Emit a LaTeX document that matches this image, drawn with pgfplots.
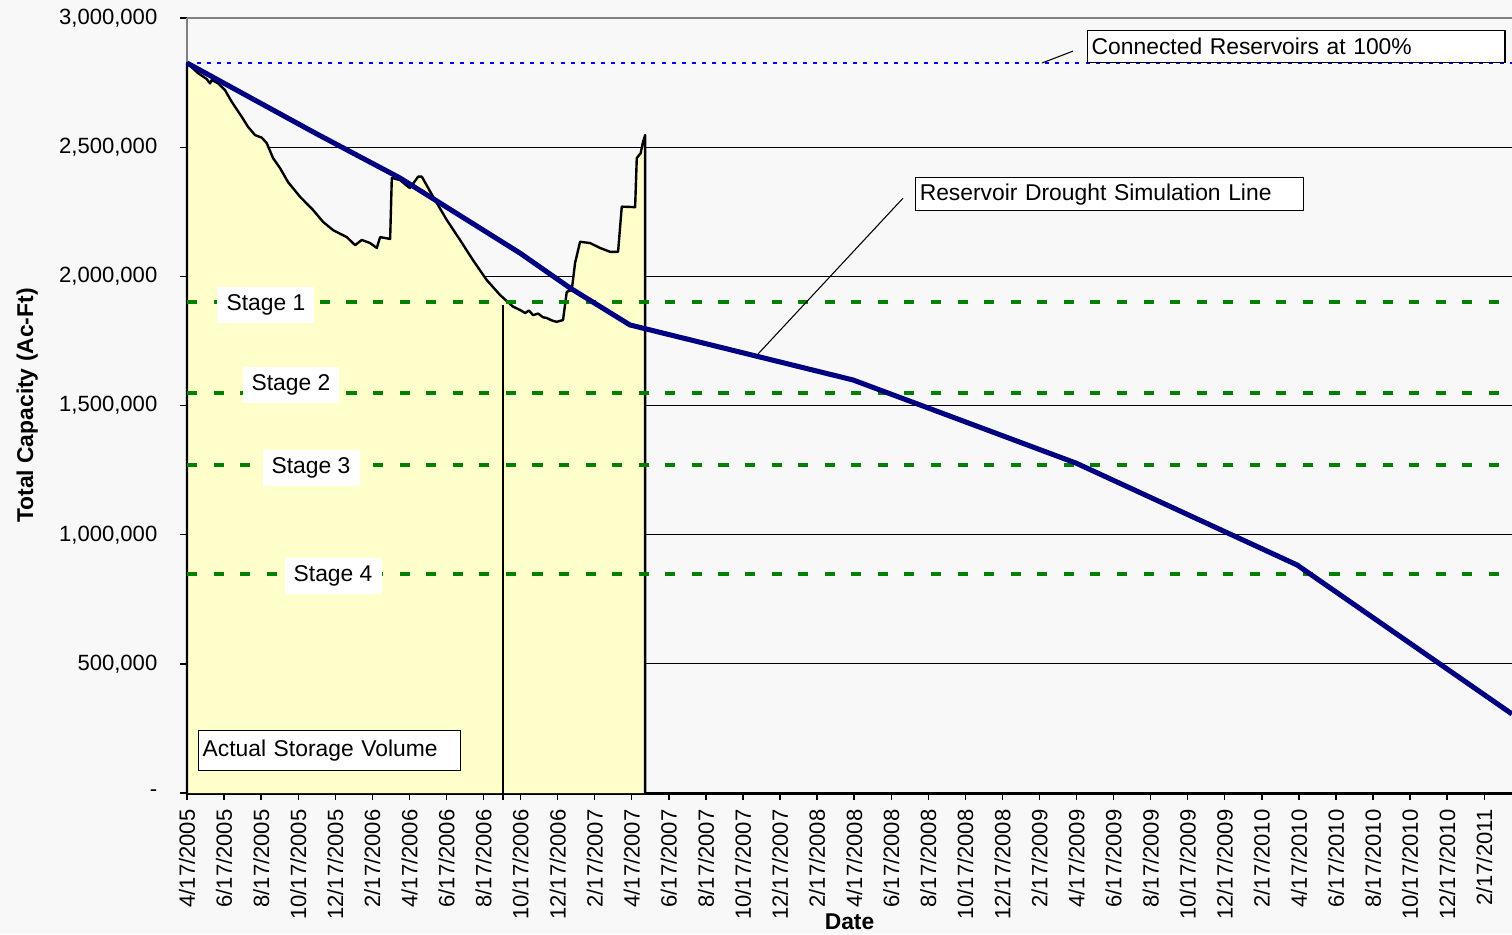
\documentclass[border=0pt]{standalone}
\usepackage{fontspec}
\setmainfont{Liberation Sans}
\usepackage{pgfplots}
\pgfplotsset{compat=1.18}
\usetikzlibrary{calc,backgrounds}

\definecolor{fillyel}{HTML}{FFFFCC}
\definecolor{navyline}{HTML}{000080}
\definecolor{stagegreen}{HTML}{008000}
\definecolor{topblue}{HTML}{0000FF}
\definecolor{bgc}{HTML}{F8F8F8}

\newcommand{\annfont}{\fontsize{8.6}{10}\selectfont}

% months after 4/17/2005, acre-feet
\pgfplotstableread{
m v
0 0
0 2826000
0.59 2787000
1.06 2764000
1.24 2747000
1.33 2760000
1.67 2748000
2.05 2721000
2.41 2676000
2.95 2618000
3.29 2579000
3.67 2547000
4.03 2537000
4.30 2516000
4.64 2458000
5.02 2419000
5.45 2365000
6.10 2308000
6.80 2257000
7.34 2211000
7.88 2179000
8.62 2152000
9.07 2121000
9.43 2141000
9.88 2129000
10.24 2110000
10.42 2152000
10.96 2145000
11.05 2381000
11.49 2373000
11.93 2347000
12.03 2342000
12.47 2386000
12.67 2386000
13.28 2308000
14.02 2218000
14.73 2141000
15.43 2063000
16.17 1986000
16.89 1928000
17.59 1883000
17.97 1870000
18.25 1858000
18.45 1868000
18.67 1850000
18.95 1856000
19.20 1842000
19.41 1839000
19.70 1829000
19.95 1824000
20.29 1831000
20.49 1940000
20.76 1947000
20.94 2052000
21.21 2134000
21.75 2129000
22.29 2110000
22.83 2095000
23.26 2095000
23.46 2270000
24.18 2268000
24.27 2458000
24.48 2477000
24.59 2516000
24.72 2547000
24.72 0
}\storage

\pgfplotstableread{
m v
0 2826000
6.91 2555000
11.49 2381000
17.97 2090000
20.67 1955000
23.90 1812000
35.94 1599000
47.98 1277000
59.90 883000
71.50 306000
}\drought

\begin{document}
\begin{tikzpicture}
\begin{axis}[
    name=ax,
    scale only axis,
    width=498.7pt, height=291.7pt,
    xmin=0, xmax=71.5,
    ymin=0, ymax=3000000,
    clip=false,
    axis x line=bottom, axis y line=left,
    axis line style={-},
    x axis line style={black, line width=1.1pt},
    y axis line style={gray, line width=0.8pt},
    tick align=outside,
    major tick length=2.5pt,
    tick style={black, line width=0.5pt},
    xtick={0,2,...,70},
    xticklabels={4/17/2005,6/17/2005,8/17/2005,10/17/2005,12/17/2005,2/17/2006,4/17/2006,6/17/2006,8/17/2006,10/17/2006,12/17/2006,2/17/2007,4/17/2007,6/17/2007,8/17/2007,10/17/2007,12/17/2007,2/17/2008,4/17/2008,6/17/2008,8/17/2008,10/17/2008,12/17/2008,2/17/2009,4/17/2009,6/17/2009,8/17/2009,10/17/2009,12/17/2009,2/17/2010,4/17/2010,6/17/2010,8/17/2010,10/17/2010,12/17/2010,2/17/2011},
    xticklabel style={rotate=90, anchor=east, inner sep=0pt},
    xticklabel shift=3.5pt,
    ytick={0,500000,...,3000000},
    yticklabels={{-\hspace{8pt}},{500,000},{1,000,000},{1,500,000},{2,000,000},{2,500,000},{3,000,000}},
    yticklabel style={anchor=east, inner sep=0pt},
    yticklabel shift=8.5pt,
    ticklabel style={font=\fontsize{8.3}{9}\selectfont},
    ymajorgrids,
    grid style={black, line width=0.35pt},
    xlabel={Date},
    ylabel={Total Capacity (Ac-Ft)},
    xlabel style={at={(axis description cs:0.5,0)}, anchor=center, yshift=-48.6pt, font=\bfseries\fontsize{8.6}{10}\selectfont},
    ylabel style={at={(axis description cs:-0.1207,0.5)}, anchor=center, font=\bfseries\fontsize{8.6}{10}\selectfont},
]
% actual storage volume (area)
\addplot[fill=fillyel, draw=black, line width=0.9pt, line join=round] table[x=m, y=v] {\storage};
\addplot[black, line width=0.5pt] coordinates {(17.05,1889000) (17.05,-28000)};

% stage trigger levels
\addplot[stagegreen, line width=1.5pt, dash pattern=on 3.8pt off 6.2pt] coordinates {(0,1900000) (71.5,1900000)};
\addplot[stagegreen, line width=1.5pt, dash pattern=on 3.8pt off 6.2pt] coordinates {(0,1550000) (71.5,1550000)};
\addplot[stagegreen, line width=1.5pt, dash pattern=on 3.8pt off 6.2pt] coordinates {(0,1270000) (71.5,1270000)};
\addplot[stagegreen, line width=1.5pt, dash pattern=on 3.8pt off 6.2pt] coordinates {(0,848000) (71.5,848000)};

% connected reservoirs at 100%
\addplot[topblue, line width=0.75pt, dash pattern=on 1.5pt off 2.3pt] coordinates {(0,2826000) (71.5,2826000)};

% drought simulation
\addplot[navyline, line width=1.9pt, line join=round] table[x=m, y=v] {\drought};

\draw[gray, line width=0.8pt] (axis cs:0,3000000) -- (axis cs:71.5,3000000);

% stage labels
\node[fill=white, minimum width=36.5pt, minimum height=13.5pt, inner sep=0pt, font=\annfont] at (axis cs:4.26,1889000) {Stage 1};
\node[fill=white, minimum width=36.5pt, minimum height=13.5pt, inner sep=0pt, font=\annfont] at (axis cs:5.61,1579000) {Stage 2};
\node[fill=white, minimum width=36.5pt, minimum height=13.5pt, inner sep=0pt, font=\annfont] at (axis cs:6.69,1258000) {Stage 3};
\node[fill=white, minimum width=36.5pt, minimum height=13.5pt, inner sep=0pt, font=\annfont] at (axis cs:7.88,840000) {Stage 4};

% callouts
\draw[black, line width=0.4pt] (axis cs:46.14,2826000) -- (axis cs:47.81,2872000);
\node[draw=black, line width=0.5pt, fill=white, anchor=north west, inner sep=1.5pt, text width=154pt, minimum height=12pt, align=left, font=\annfont] at (axis cs:48.57,2953600) {Connected Reservoirs at 100\%};
\draw[black, line width=0.4pt] (axis cs:30.76,1695500) -- (axis cs:38.64,2303000);
\node[draw=black, line width=0.5pt, fill=white, anchor=north west, inner sep=1.5pt, text width=143pt, minimum height=12.4pt, align=left, font=\annfont] at (axis cs:39.29,2384500) {Reservoir Drought Simulation Line};
\node[draw=black, line width=0.5pt, fill=white, anchor=north west, inner sep=1.5pt, text width=95.6pt, minimum height=15pt, align=left, font=\annfont] at (axis cs:0.59,243900) {Actual Storage Volume};
\end{axis}
\pgfresetboundingbox
\path[use as bounding box] ($(ax.south west)+(-70.4pt,-53.1pt)$) rectangle ($(ax.north east)+(0,6.8pt)$);
\begin{scope}[on background layer]
\fill[bgc] ($(ax.south west)+(-70.4pt,-53.1pt)$) rectangle ($(ax.north east)+(0,6.8pt)$);
\end{scope}
\end{tikzpicture}
\end{document}
